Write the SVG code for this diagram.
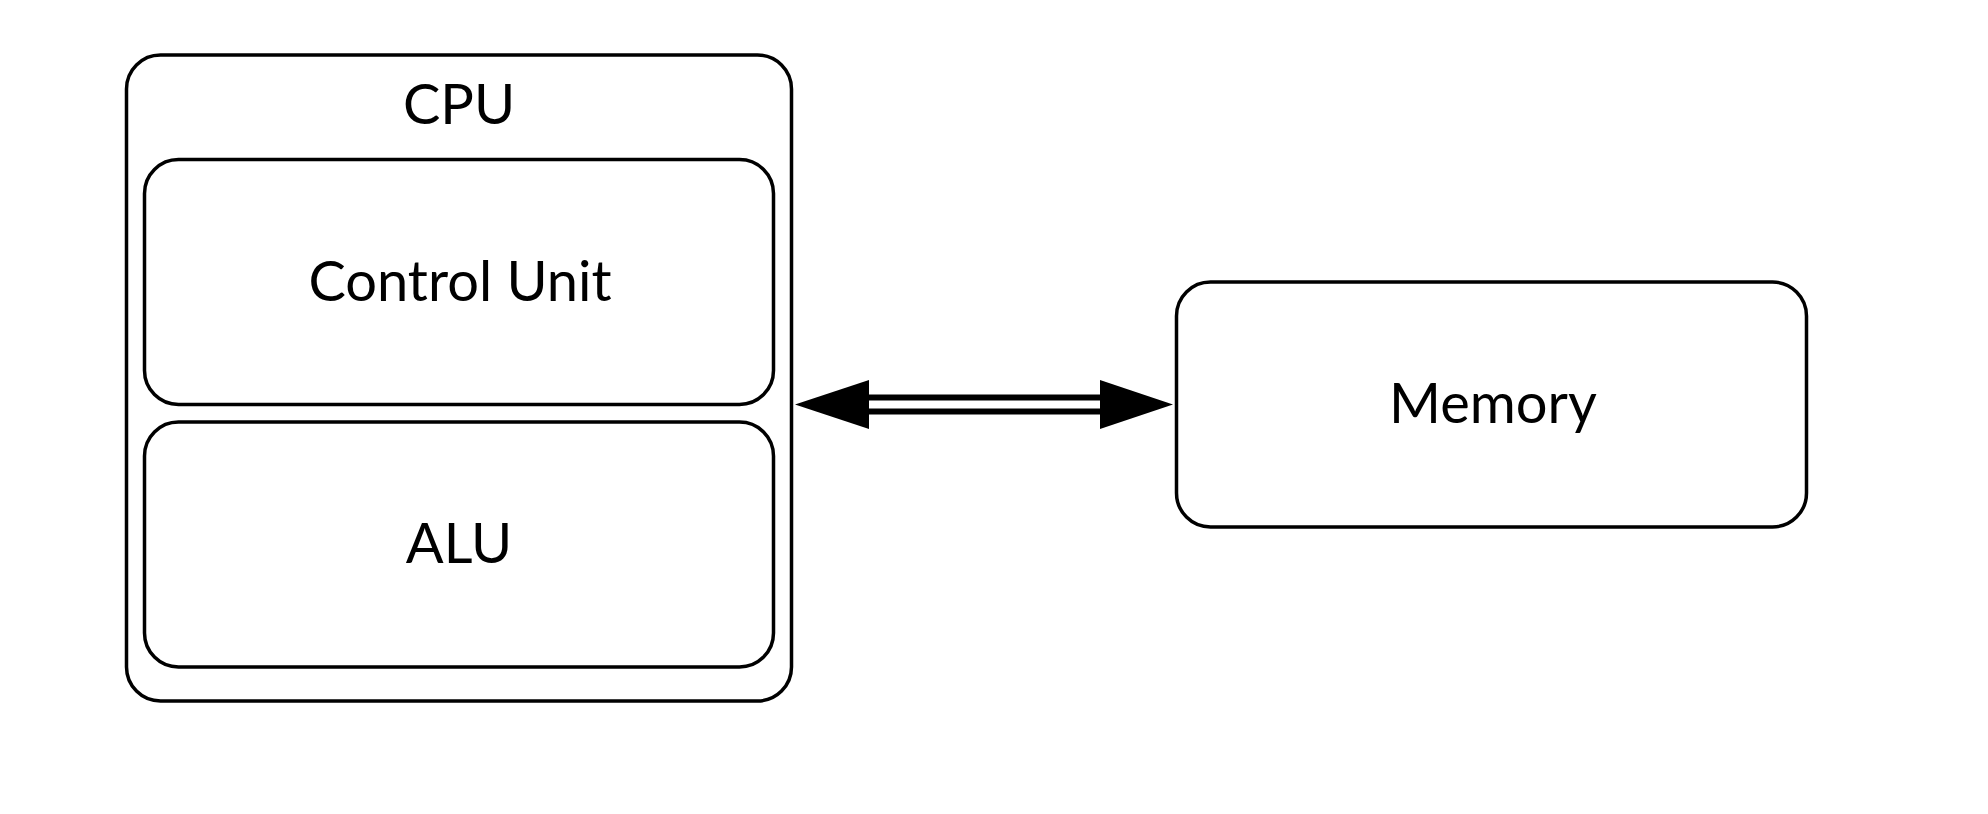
<svg xmlns="http://www.w3.org/2000/svg" width="1988" height="814" viewBox="0 0 1988 814">
  <style>
    .box { fill: #ffffff; stroke: #000000; stroke-width: 3.5; }
    .label { font-family: Lato, "Noto Sans", "Liberation Sans", sans-serif; font-size: 56px; fill: #000000; text-anchor: middle; }
    .bus { stroke: #000000; stroke-width: 6; fill: none; }
    .head { fill: #000000; stroke: none; }
  </style>
  <rect width="1988" height="814" fill="#ffffff"/>

  <g id="cpu">
    <rect class="box" x="126.5" y="55" width="665" height="646" rx="34" ry="34"/>
    <text class="label" x="459" y="124">CPU</text>
  </g>

  <g id="control-unit">
    <rect class="box" x="144.5" y="159.5" width="629" height="245" rx="34" ry="34"/>
    <text class="label" x="460" y="300.5">Control Unit</text>
  </g>

  <g id="alu">
    <rect class="box" x="144.5" y="422" width="629" height="245" rx="34" ry="34"/>
    <text class="label" x="459" y="563">ALU</text>
  </g>

  <g id="memory">
    <rect class="box" x="1176.5" y="282" width="630" height="245" rx="34" ry="34"/>
    <text class="label" x="1493" y="423">Memory</text>
  </g>

  <g id="connectors">
    <!-- double-line bus with an arrowhead at each end -->
    <line class="bus" x1="866" y1="397.5" x2="1103" y2="397.5"/>
    <line class="bus" x1="866" y1="411.5" x2="1103" y2="411.5"/>
    <polygon class="head" points="795,404.5 869,380 869,429"/>
    <polygon class="head" points="1173,404.5 1100,380 1100,429"/>
  </g>
</svg>
